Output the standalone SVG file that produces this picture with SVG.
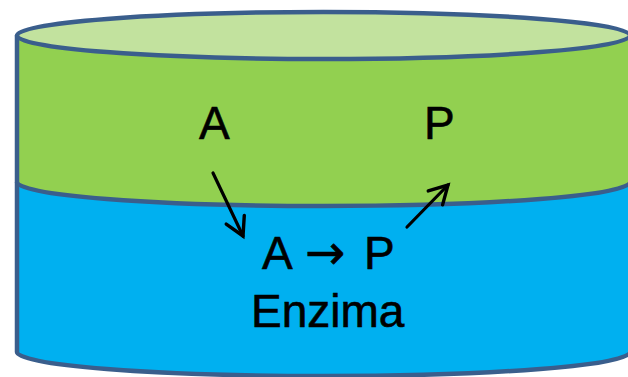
<svg xmlns="http://www.w3.org/2000/svg" width="628" height="377" viewBox="0 0 628 377">
  <style>
    .edge { fill: none; stroke: #3A5E8C; stroke-width: 4.5; stroke-linejoin: round; }
    .lbl { font-family: "Liberation Sans", Arial, sans-serif; font-size: 46px; fill: #000; stroke: #000; stroke-width: 0.6; }
    .sym { font-family: "DejaVu Sans", sans-serif; font-size: 48px; }
    .arrow { fill: none; stroke: #000; stroke-width: 3.2; stroke-linecap: round; }
  </style>
  <defs>
    <marker id="open-head" markerUnits="userSpaceOnUse" markerWidth="30" markerHeight="30" refX="0" refY="0" viewBox="-22 -15 30 30" orient="auto">
      <path d="M-18,-10 L0,0 L-18,10" fill="none" stroke="#000" stroke-width="3.4" stroke-linecap="round" stroke-linejoin="miter"/>
    </marker>
  </defs>

  <!-- two-layer cylinder -->
  <g id="cylinder">
    <!-- lower (enzyme) layer -->
    <path id="layer-bottom" d="M17,182 A306.5,24 0 0 0 630,182 L630,352 A306.5,24 0 0 1 17,352 Z" fill="#00B0F0"/>
    <!-- upper layer -->
    <path id="layer-top" d="M17,35.5 L17,182 A306.5,24 0 0 0 630,182 L630,35.5 Z" fill="#92D050"/>
    <!-- lid -->
    <ellipse cx="323.5" cy="35.5" rx="306.5" ry="23.5" fill="#C2E29E"/>
    <!-- outlines -->
    <path class="edge" d="M17,35.5 L17,352 A306.5,24 0 0 0 630,352"/>
    <path class="edge" d="M17,182 A306.5,24 0 0 0 630,182"/>
    <ellipse class="edge" cx="323.5" cy="35.5" rx="306.5" ry="23.5"/>
  </g>

  <g id="substrate">
    <text class="lbl" x="199" y="139">A</text>
  </g>
  <g id="product">
    <text class="lbl" x="424" y="139">P</text>
  </g>
  <g id="enzyme">
    <text class="lbl" y="269"><tspan x="262">A</tspan><tspan class="sym" x="305" dy="0">→</tspan><tspan x="364">P</tspan></text>
    <text class="lbl" x="251" y="327">Enzima</text>
  </g>

  <g id="connectors">
    <line class="arrow" x1="213" y1="173" x2="243" y2="236" marker-end="url(#open-head)"/>
    <line class="arrow" x1="407" y1="227" x2="448" y2="185" marker-end="url(#open-head)"/>
  </g>
</svg>
